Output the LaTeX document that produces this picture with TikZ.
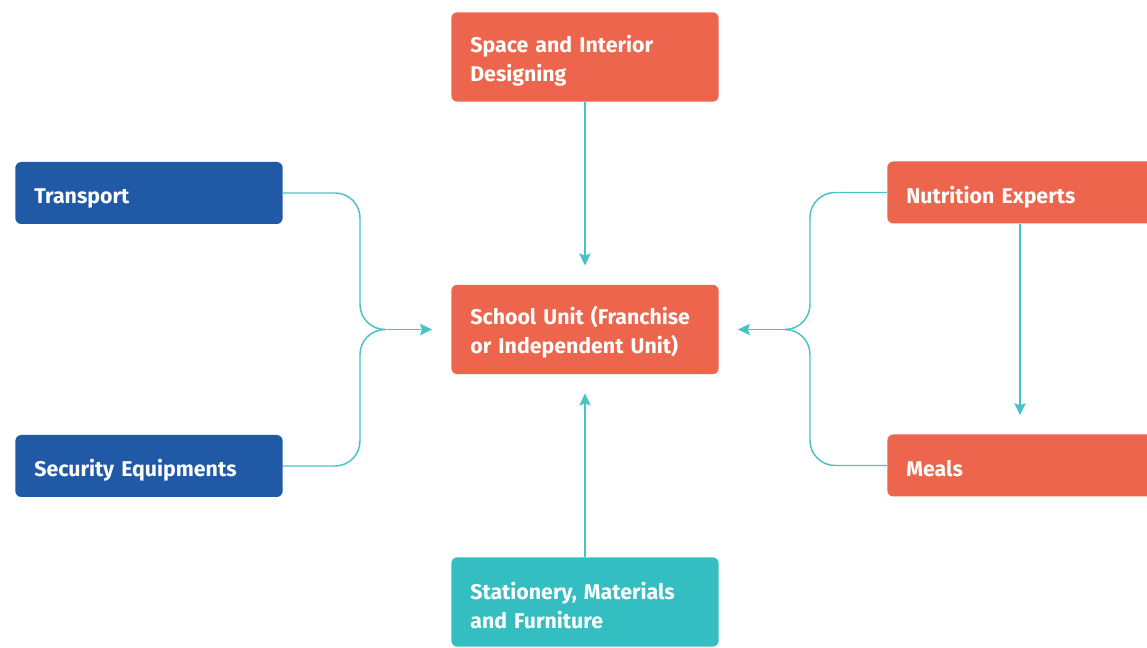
\documentclass[tikz,border=0pt]{standalone}
\usepackage{fontspec}
\setmainfont{Fira Sans}
\usetikzlibrary{arrows.meta,positioning,calc}
\definecolor{coral}{RGB}{236,101,76}
\definecolor{navy}{RGB}{32,90,167}
\definecolor{aqua}{RGB}{53,190,193}
\definecolor{wire}{RGB}{72,194,197}
\tikzset{
  unit/.style={rectangle, rounded corners=4.5pt, fill=#1, text=white, font=\bfseries\fontsize{16}{21.75}\selectfont,
    align=left, text width=172pt, inner xsep=14.25pt, inner ysep=0pt, minimum height=67pt, text height=18.5pt},
  slim/.style={unit=#1, minimum height=46.5pt, text height=20pt, text depth=4pt},
  link/.style={draw=wire, line width=1.1pt, rounded corners=18.75pt},
  feed/.style={-{Stealth[length=9pt,width=8.5pt,inset=1.5pt]}, draw=wire, line width=1.1pt, shorten >=14.25pt},
}
\begin{document}
\begin{tikzpicture}[x=0.75pt,y=0.75pt]
  \path[use as bounding box, clip] (0,0) rectangle (1147,648);
  \node[unit=coral] (space) at (585,591) {Space and Interior\\Designing};
  \node[unit=coral] (school) at (585,318.5) {School Unit (Franchise\\or Independent Unit)};
  \node[unit=aqua] (stationery) at (585,46) {Stationery, Materials\\and Furniture};
  \node[slim=navy] (transport) at (149,455) {Transport};
  \node[slim=navy] (security) at (149,182) {Security Equipments};
  \node[slim=coral] (nutrition) at (1021,455.5) {Nutrition Experts};
  \node[slim=coral] (meals) at (1021,182.5) {Meals};
  \coordinate (lbend) at (360,318.5);
  \coordinate (lhub) at (385,318.5);
  \coordinate (rbend) at (810,318.5);
  \coordinate (rhub) at (785,318.5);
  % branches into the school unit
  \foreach \n in {transport,security} { \draw[link] (\n.east) -| (lbend) -- (lhub); }
  \foreach \n in {nutrition,meals} { \draw[link] (\n.west) -| (rbend) -- (rhub); }
  \draw[feed] (lhub) -- (school.west);
  \draw[feed] (rhub) -- (school.east);
  \draw[feed] (space) -- (school);
  \draw[feed] (stationery) -- (school);
  \draw[feed] (nutrition.south -| 1020,0) -- (meals.north -| 1020,0);
\end{tikzpicture}
\end{document}
